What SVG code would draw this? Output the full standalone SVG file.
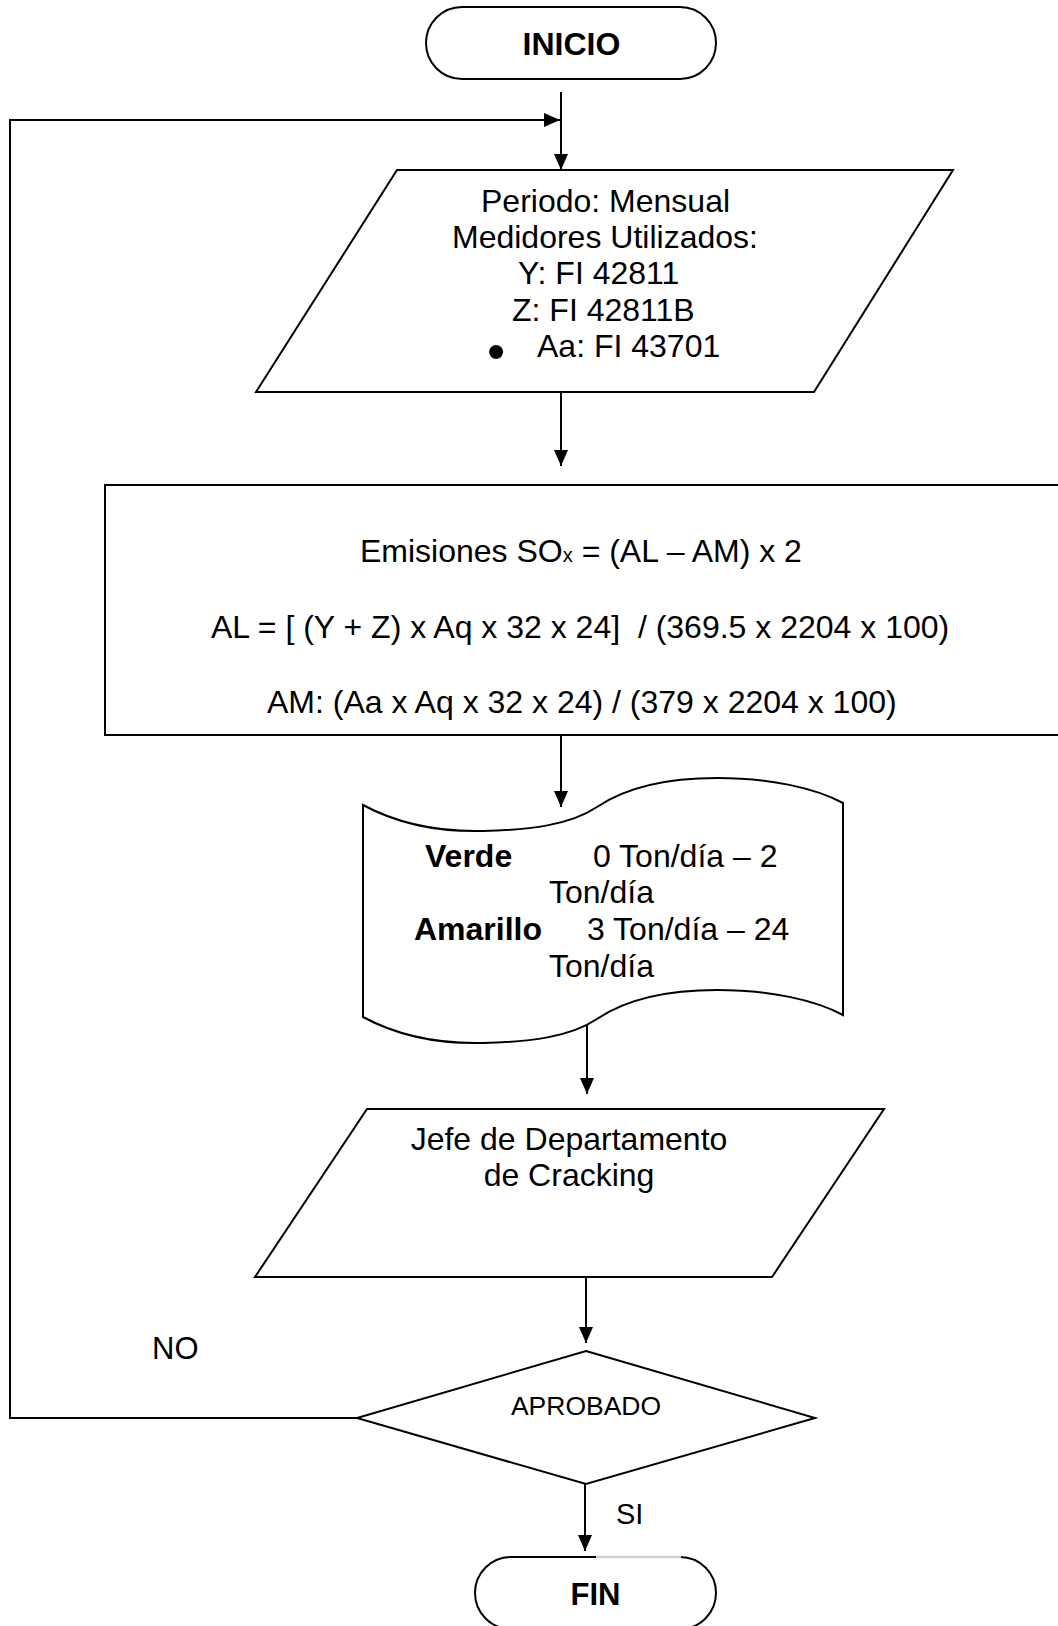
<svg xmlns="http://www.w3.org/2000/svg" width="1058" height="1626" viewBox="0 0 1058 1626">
<style>
.s{fill:#fff;stroke:#000;stroke-width:2}
.c{fill:none;stroke:#000;stroke-width:2}
text{font-family:"Liberation Sans",Arial,sans-serif;font-size:32px;fill:#000}
.b{font-weight:bold}
.m{text-anchor:middle}
</style>
<defs>
<marker id="ah" markerUnits="userSpaceOnUse" markerWidth="17" markerHeight="15" refX="16" refY="7" orient="auto">
<path d="M0,0 L16,7 L0,14 z" fill="#000"/>
</marker>
</defs>
<rect width="1058" height="1626" fill="#fff"/>
<g id="connectors">
<path class="c" d="M561,92 L561,170" marker-end="url(#ah)"/>
<path class="c" d="M357,1418 L10,1418 L10,120 L560,120" marker-end="url(#ah)"/>
<path class="c" d="M561,392 L561,466" marker-end="url(#ah)"/>
<path class="c" d="M561,735 L561,807" marker-end="url(#ah)"/>
<path class="c" d="M587,1024 L587,1094" marker-end="url(#ah)"/>
<path class="c" d="M586,1277 L586,1343" marker-end="url(#ah)"/>
<path class="c" d="M585,1484 L585,1551" marker-end="url(#ah)"/>
</g>
<g id="inicio">
<rect class="s" x="426" y="7" width="290" height="72" rx="36" ry="36"/>
<text class="b m" x="571.5" y="55">INICIO</text>
</g>
<g id="entrada">
<path class="s" d="M397,170 L953,170 L814,392 L256,392 Z"/>
<text x="481" y="212">Periodo: Mensual</text>
<text x="452" y="248">Medidores Utilizados:</text>
<text x="518" y="284">Y: FI 42811</text>
<text x="512" y="321">Z: FI 42811B</text>
<text x="487" y="369" style="font-size:52px">•</text>
<text x="537" y="357">Aa: FI 43701</text>
</g>
<g id="calculo">
<path class="c" d="M1070,485 L105,485 L105,735 L1070,735"/>
<text x="360" y="562">Emisiones SO<tspan style="font-size:20px">x</tspan> = (AL – AM) x 2</text>
<text x="211" y="638" xml:space="preserve">AL = [ (Y + Z) x Aq x 32 x 24]  / (369.5 x 2204 x 100)</text>
<text x="267" y="713">AM: (Aa x Aq x 32 x 24) / (379 x 2204 x 100)</text>
</g>
<g id="documento">
<path class="s" d="M363,805 C400,825 440,832 483,831 C530,830 570,825 597,807 C625,788 665,778 717,778 C770,778 815,788 843,803 L843,1015 C815,1000 770,990 717,990 C665,990 625,1000 597,1019 C570,1037 530,1042 483,1043 C440,1044 400,1037 363,1017 Z"/>
<text class="b" x="425" y="867">Verde</text>
<text x="593" y="867">0 Ton/día – 2</text>
<text x="549" y="903">Ton/día</text>
<text class="b" x="414" y="940">Amarillo</text>
<text x="587" y="940">3 Ton/día – 24</text>
<text x="549" y="977">Ton/día</text>
</g>
<g id="jefe">
<path class="s" d="M367,1109 L884,1109 L772,1277 L255,1277 Z"/>
<text class="m" x="569" y="1150">Jefe de Departamento</text>
<text class="m" x="569" y="1186">de Cracking</text>
</g>
<g id="aprobado">
<path class="s" d="M586,1351 L815,1418 L586,1484 L357,1418 Z"/>
<text class="m" x="586" y="1415" style="font-size:26.5px">APROBADO</text>
</g>
<g id="labels">
<text x="152" y="1359" style="font-size:31px">NO</text>
<text x="616" y="1524" style="font-size:29px">SI</text>
</g>
<g id="fin">
<rect class="s" x="475" y="1557" width="241" height="72" rx="36" ry="36"/>
<line x1="596" y1="1557" x2="681" y2="1557" stroke="#d0d0d0" stroke-width="2.5"/>
<text class="b m" x="595.5" y="1605" style="font-size:31px">FIN</text>
</g>
</svg>
